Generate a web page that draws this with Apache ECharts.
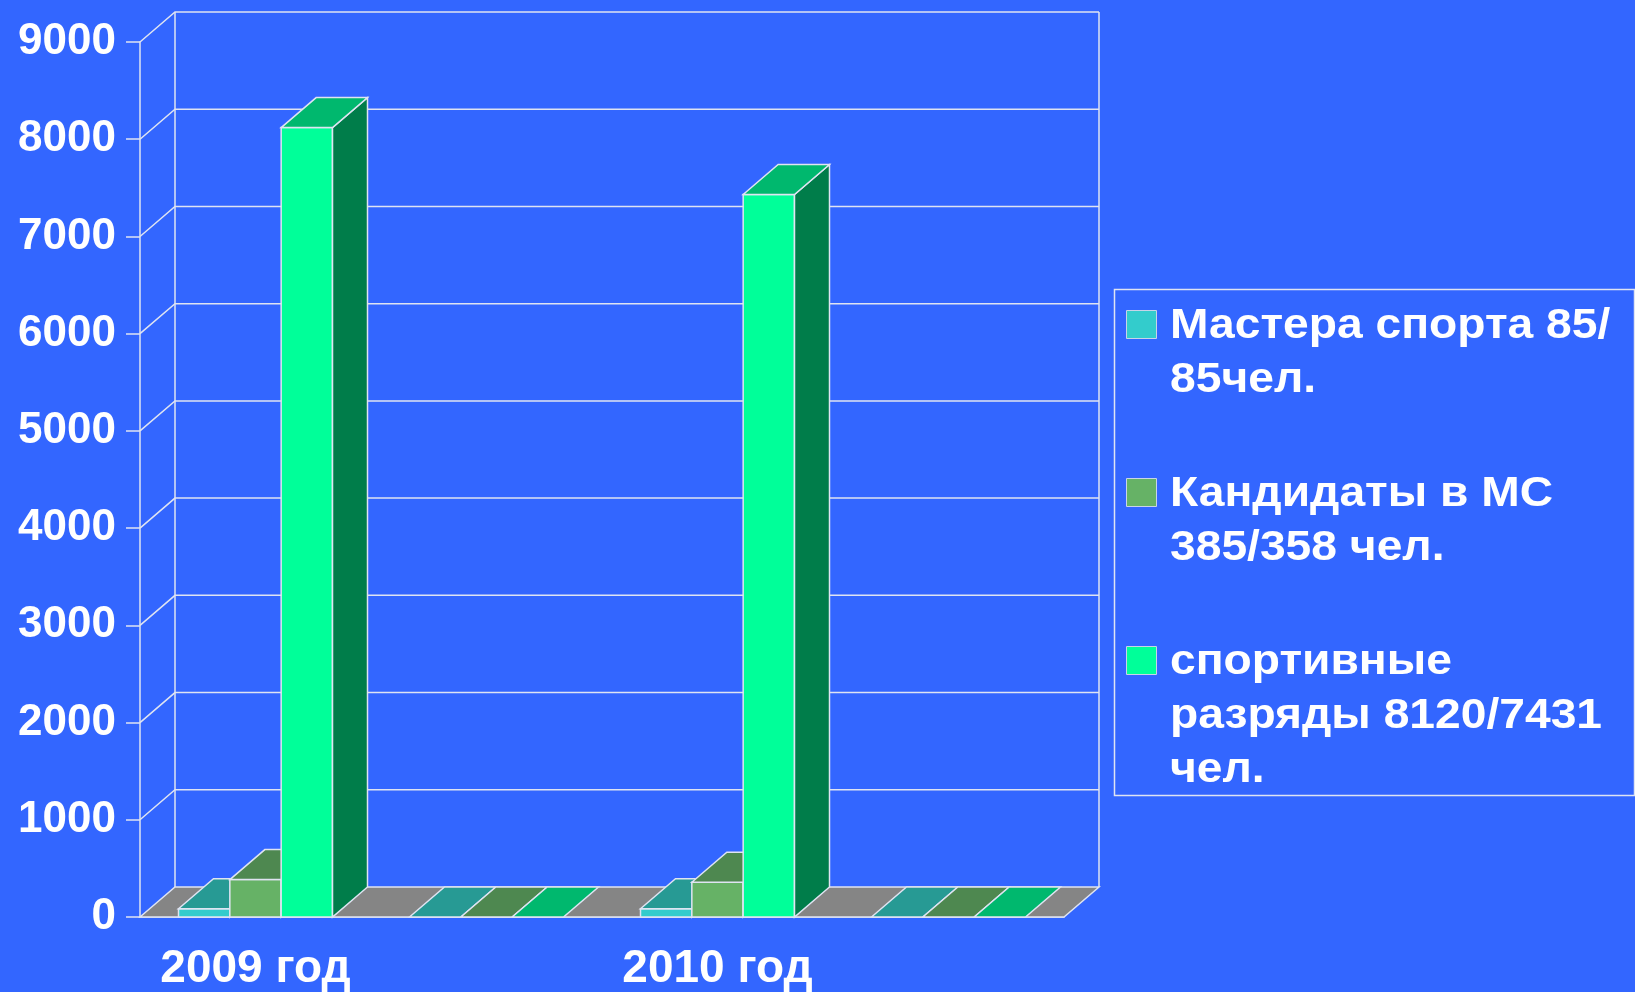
<!DOCTYPE html>
<html>
<head>
<meta charset="utf-8">
<script src="https://cdn.jsdelivr.net/npm/echarts@6/dist/echarts.min.js"></script>
<style>
  html, body { margin: 0; padding: 0; background: #3366ff; }
  #chart { width: 1635px; height: 992px; }
</style>
</head>
<body>
<div id="chart"></div>
<script>
// данные
var categories = ['2009 год', '', '2010 год', ''];
var seriesNames = ['Мастера спорта 85/\n85чел.', 'Кандидаты в МС\n385/358 чел.', 'спортивные\nразряды 8120/7431\nчел.'];
var masters = [85, 0, 85, 0];
var candidates = [385, 0, 358, 0];
var ranks = [8120, 0, 7431, 0];
var yTicks = [0, 1000, 2000, 3000, 4000, 5000, 6000, 7000, 8000, 9000];

// цвета граней: фронт / верх / бок
var faceColors = [
  ['#33cccc', '#279a94', '#1d7370'],
  ['#66b266', '#4e8850', '#3a663c'],
  ['#00ff99', '#00b86e', '#007d4a']
];
var floorColor = '#858585';
var lineColor = '#dfe4f2';
var DX = 35, DY = 30;
var font = '"Liberation Sans", Arial, sans-serif';

var chart = echarts.init(document.getElementById('chart'));

function barRenderer(sIdx) {
  return function (params, api) {
    var cat = api.value(0), val = api.value(1);
    var base = api.coord([cat, 0]);
    var top = api.coord([cat, val]);
    var catW = api.size([1, 0])[0];
    var n = seriesNames.length;
    var barW = catW / (n + 1.5);
    var x0 = base[0] - catW / 2 + 0.75 * barW + sIdx * barW;
    var x1 = x0 + barW;
    var c = faceColors[sIdx];
    var st = { stroke: lineColor, lineWidth: 1.5 };
    var children = [];
    if (val > 0) {
      children.push({ type: 'rect', shape: { x: x0, y: top[1], width: barW, height: base[1] - top[1] },
        style: Object.assign({ fill: c[0] }, st) });
      children.push({ type: 'polygon', shape: { points: [[x1, top[1]], [x1 + DX, top[1] - DY], [x1 + DX, base[1] - DY], [x1, base[1]]] },
        style: Object.assign({ fill: c[2] }, st) });
    }
    children.push({ type: 'polygon', shape: { points: [[x0, top[1]], [x0 + DX, top[1] - DY], [x1 + DX, top[1] - DY], [x1, top[1]]] },
      style: Object.assign({ fill: c[1] }, st) });
    return { type: 'group', children: children };
  };
}

function wallRenderer(params, api) {
  var cs = params.coordSys;
  var v = api.value(1);
  var p = api.coord([0, v]);
  var xl = cs.x, xr = cs.x + cs.width;
  var st = { stroke: lineColor, lineWidth: 1.5, fill: null };
  var children = [];
  if (v > 0) {
    children.push({ type: 'polyline', shape: { points: [[xl, p[1]], [xl + DX, p[1] - DY], [xr + DX, p[1] - DY]] }, style: st });
  }
  if (params.dataIndex === 0) {
    var yb = cs.y + cs.height, yt = cs.y;
    children.push({ type: 'line', shape: { x1: xl + DX, y1: yb - DY, x2: xl + DX, y2: yt - DY }, style: st });
    children.push({ type: 'line', shape: { x1: xr + DX, y1: yb - DY, x2: xr + DX, y2: yt - DY }, style: st });
    children.push({ type: 'polygon', shape: { points: [[xl, yb], [xl + DX, yb - DY], [xr + DX, yb - DY], [xr, yb]] },
      style: { fill: floorColor, stroke: lineColor, lineWidth: 1.5 } });
  }
  return { type: 'group', children: children };
}

var barData = [masters, candidates, ranks];
var series = [{
  type: 'custom',
  name: 'walls',
  renderItem: wallRenderer,
  data: yTicks.map(function (v) { return [0, v]; }),
  silent: true,
  z: 1
}];
barData.forEach(function (arr, i) {
  series.push({
    type: 'custom',
    name: seriesNames[i],
    renderItem: barRenderer(i),
    itemStyle: { color: faceColors[i][0] },
    data: arr.map(function (v, k) { return [k, v]; }),
    z: 2 + i
  });
});

// легенда
var legendGraphics = [{
  type: 'rect', left: 1112, top: 287,
  shape: { width: 520, height: 506 },
  style: { fill: null, stroke: lineColor, lineWidth: 1.5 }
}];
var legendTops = [299, 467, 635];
seriesNames.forEach(function (name, i) {
  legendGraphics.push({
    type: 'rect', left: 1126, top: legendTops[i] + 11,
    shape: { width: 30, height: 28 },
    style: { fill: faceColors[i][0], stroke: '#c8d4e8', lineWidth: 1 }
  });
  legendGraphics.push({
    type: 'text', x: 1170, y: legendTops[i], scaleX: 1.1,
    style: { text: name, fill: '#ffffff', font: 'bold 42px ' + font, lineHeight: 54 }
  });
});

chart.setOption({
  backgroundColor: '#3366ff',
  animation: false,
  grid: { left: 140, right: 571, top: 42, bottom: 75 },
  xAxis: {
    type: 'category',
    data: categories,
    axisLine: { lineStyle: { color: lineColor, width: 1.5 } },
    axisTick: { length: 12, lineStyle: { color: lineColor, width: 1.5 } },
    axisLabel: { color: '#ffffff', fontSize: 46, fontWeight: 'bold', fontFamily: font, margin: 29, interval: 0 },
    splitLine: { show: false }
  },
  yAxis: {
    type: 'value',
    min: 0, max: 9000, interval: 1000,
    axisLine: { show: true, lineStyle: { color: lineColor, width: 1.5 } },
    axisTick: { show: true, length: 14, lineStyle: { color: lineColor, width: 1.5 } },
    axisLabel: { color: '#ffffff', fontSize: 44, fontWeight: 'bold', fontFamily: font, margin: 24,
      formatter: function (v) { return String(v); } },
    splitLine: { show: false }
  },
  graphic: legendGraphics,
  series: series
});
</script>
</body>
</html>
